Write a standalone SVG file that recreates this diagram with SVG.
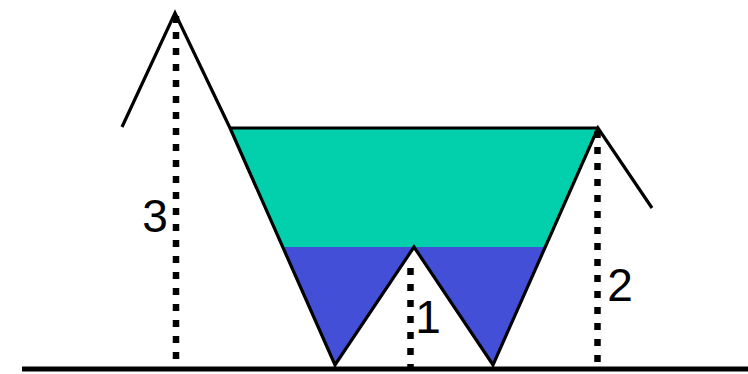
<svg xmlns="http://www.w3.org/2000/svg" width="748" height="374" viewBox="0 0 748 374">
  <style>
    .line { fill: none; stroke: #000; stroke-width: 3.2; stroke-linejoin: miter; stroke-miterlimit: 10; }
    .dots { fill: none; stroke: #000; stroke-width: 6.5; stroke-dasharray: 7 9; }
    .label { font-family: "Liberation Sans", Arial, sans-serif; font-size: 46px; fill: #000; text-anchor: middle; }
  </style>
  <rect width="748" height="374" fill="#fff"/>
  <g id="fills">
    <polygon points="230,128 598,128 545.3,247 282.7,247" fill="#02D0AC"/>
    <polygon points="282.7,247 335,365 414,247" fill="#434FD6"/>
    <polygon points="414,247 493,365 545.3,247" fill="#434FD6"/>
  </g>
  <g id="measures">
    <line class="dots" x1="176" y1="16" x2="176" y2="366"/>
    <line class="dots" x1="410.5" y1="268" x2="410.5" y2="368"/>
    <line class="dots" x1="597.5" y1="131" x2="597.5" y2="366"/>
  </g>
  <g id="outline">
    <path class="line" d="M122,127 L175,13 L230,128 L335,365 L414,247 L493,365 L598,128 L652,208"/>
    <line class="line" x1="230" y1="128" x2="598" y2="128"/>
    <line x1="22" y1="369" x2="748" y2="369" stroke="#000" stroke-width="5"/>
  </g>
  <g id="labels">
    <text class="label" x="155" y="232">3</text>
    <text class="label" x="428" y="333">1</text>
    <text class="label" x="620" y="301">2</text>
  </g>
</svg>
